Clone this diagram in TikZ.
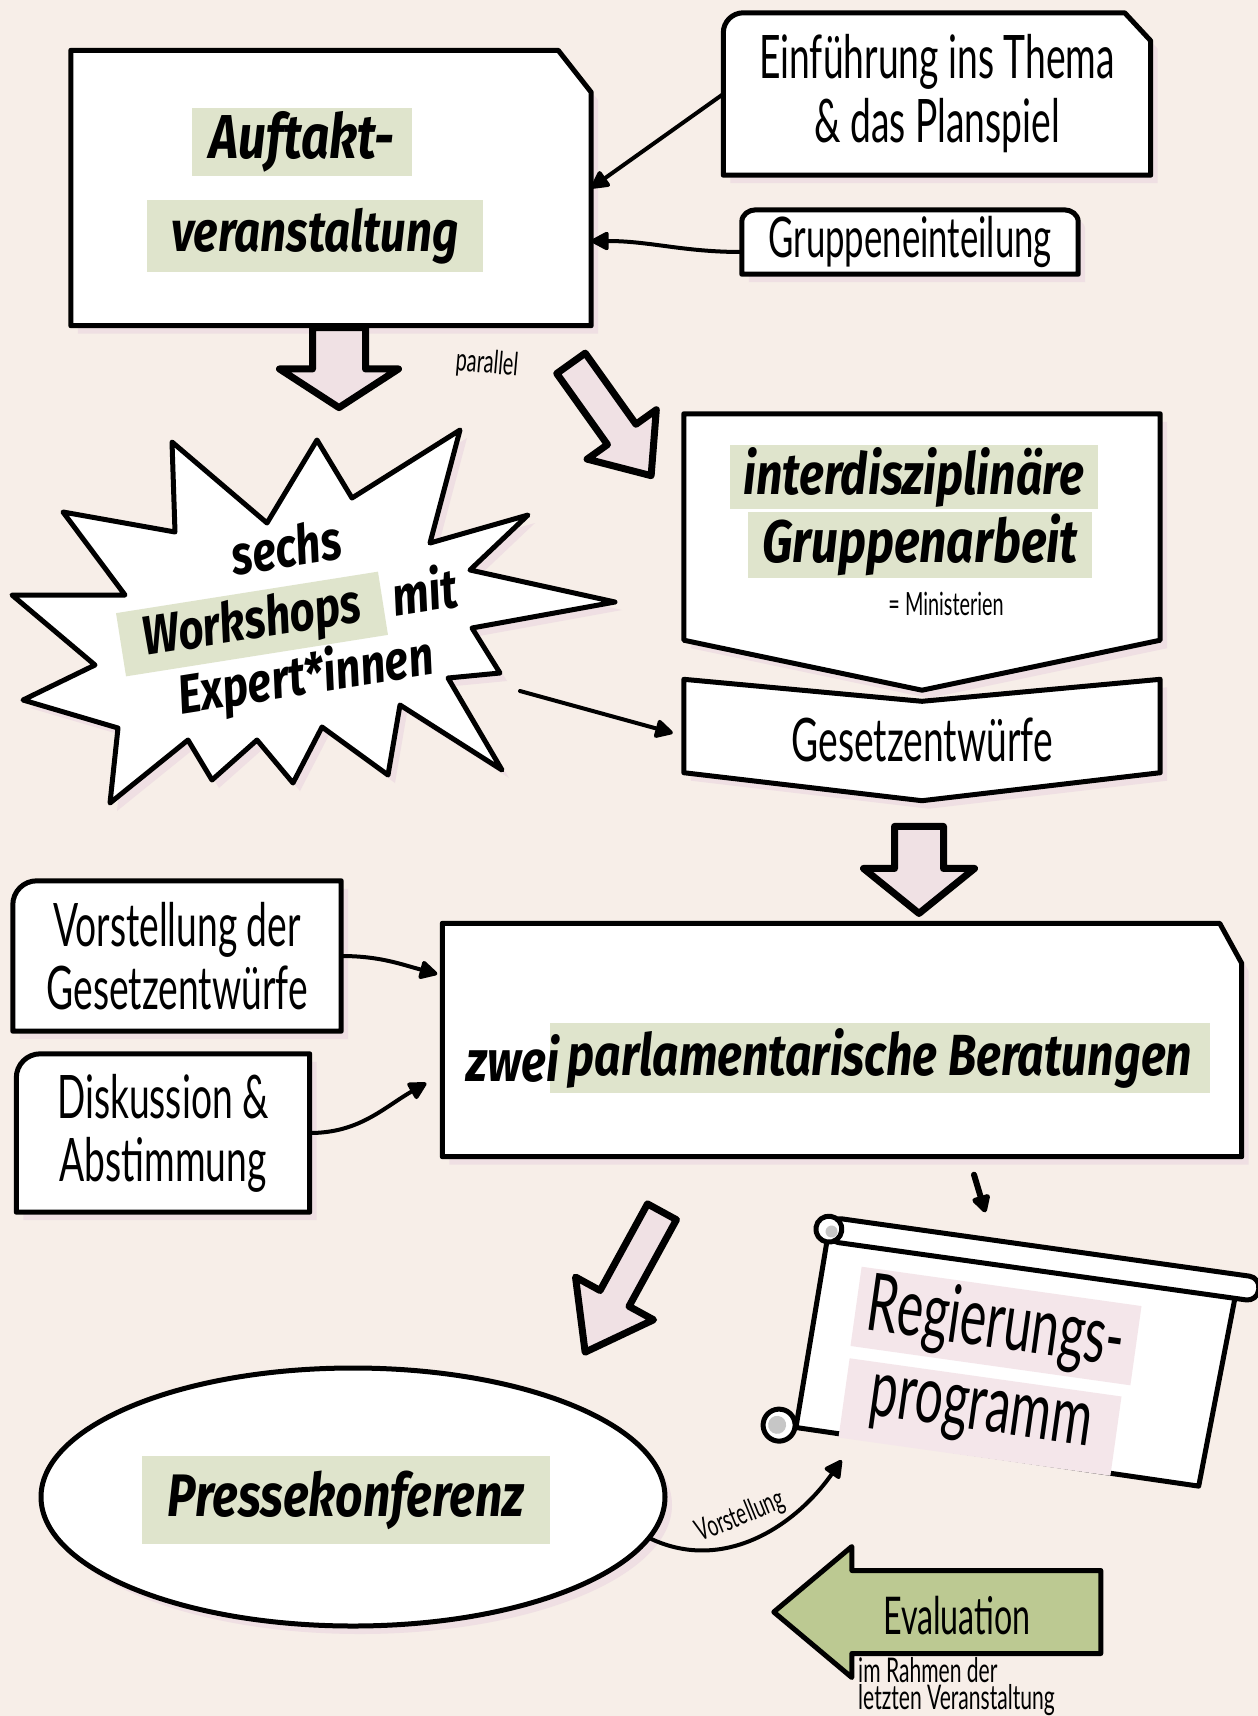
\documentclass[tikz,border=0pt]{standalone}
\usepackage{fontspec}
\usepackage{tikz}
\usetikzlibrary{arrows.meta,positioning,backgrounds,shapes.geometric,shapes.arrows}
\newfontfamily\handfont{Lato}[FakeStretch=0.62]
\newfontfamily\brushfont{Fira Sans}[FakeStretch=0.8]
\definecolor{bgpaper}{RGB}{247,238,232}
\definecolor{hlgreen}{RGB}{223,228,204}
\definecolor{hlpink}{RGB}{244,230,234}
\definecolor{shadowpink}{RGB}{239,223,227}
\definecolor{arrowpink}{RGB}{240,225,228}
\definecolor{evalgreen}{RGB}{188,201,146}
\definecolor{curlgrey}{RGB}{198,198,198}
\tikzset {
	outline/.style={draw=black, line width=5pt, line join=round, fill=white,
		preaction={fill=shadowpink, transform canvas={xshift=7pt, yshift=-8pt}}},
	plain/.style={draw=black, line width=5pt, line join=round, fill=white},
	area/.style={inner sep=0pt},
	hand/.style={font=\handfont\fontsize{#1}{#1}\selectfont, align=center, inner sep=0pt},
	brush/.style={font=\brushfont\bfseries\itshape\fontsize{#1}{#1}\selectfont, inner sep=0pt},
	greenbox/.style={fill=hlgreen, inner xsep=18pt, minimum height=64pt},
	pinkbox/.style={fill=hlpink, inner xsep=12pt, minimum height=80pt},
	conn/.style={line width=4pt, line cap=round, -{Triangle[length=20pt, width=20pt, round]}},
	blockarrow/.style={single arrow, draw=black, fill=arrowpink, line width=7pt, line join=round, inner xsep=0pt}
}
\begin{document}
\begin{tikzpicture}[x=1pt, y=-1pt]
	\begin{pgfonlayer}{background}
		\fill[bgpaper] (0,0) rectangle (1258,1716);
	\end{pgfonlayer}
	\useasboundingbox (0,0) rectangle (1258,1716);

	% top row
	\node[area, minimum width=520pt, minimum height=275pt] (auftakt) at (331,188) {};
	\node[brush=62, greenbox, minimum height=68pt] (auftakt1) at (302,142) {Auftakt-};
	\node[brush=57, greenbox, minimum height=72pt, inner xsep=24pt] (auftakt2) at (315,236) {veranstaltung};
	\node[area, hand=60, minimum width=427pt, minimum height=162pt] (einf) at (937,94) {Einführung ins Thema\\[4pt]\& das Planspiel};
	\node[area, hand=56, minimum width=336pt, minimum height=64pt] (grp) at (910,242) {Gruppeneinteilung};

	% block arrows
	\node[blockarrow, rotate=-90, inner ysep=23pt, minimum height=80pt, minimum width=114pt, single arrow head extend=33pt, single arrow tip angle=114] (down1) at (339,359) {};
	\node[blockarrow, rotate=-54.5, inner ysep=14pt, minimum height=138pt, minimum width=78pt, single arrow head extend=25pt, single arrow tip angle=80] (diag1) at (605,411) {};
	\node[hand=32, rotate=-5] (parallel) at (487,364) {parallel};

	% workshops
	\node[brush=55, rotate=9] (sechs) at (286,547) {sechs};
	\node[brush=55, rotate=9, greenbox, inner xsep=22pt] (workshops) at (252,624) {Workshops};
	\node[brush=55, rotate=9] (mit) at (424,590) {mit};
	\node[brush=55, rotate=9] (experts) at (306,678) {Expert*innen};
	\coordinate (burstout) at (520,691);

	% group work
	\node[area, minimum width=476pt, minimum height=276pt] (grpa) at (922,552) {};
	\node[brush=58, greenbox, inner xsep=14pt] (grpa1) at (914,477) {interdisziplinäre};
	\node[brush=60, greenbox, minimum height=66pt, inner xsep=14pt] (grpa2) at (920,545) {Gruppenarbeit};
	\node[hand=32] (minist) at (946,604) {= Ministerien};
	\node[area, hand=60, minimum width=476pt, minimum height=121pt] (gesetz) at (922,740) {Gesetzentwürfe};
	\node[blockarrow, rotate=-90, inner ysep=21pt, minimum height=87pt, minimum width=106pt, single arrow head extend=31pt, single arrow tip angle=102] (down2) at (919,860) {};

	% parliament
	\node[area, minimum width=799pt, minimum height=233pt] (zwei) at (842,1040) {};
	\node[brush=58, greenbox, minimum height=70pt] (zwei2) at (880,1058) {parlamentarische Beratungen};
	\node[brush=58, left=-10pt of zwei2] (zwei1) {zwei};
	\node[area, hand=60, minimum width=328pt, minimum height=150pt] (vorst) at (177,956) {Vorstellung der\\[3pt]Gesetzentwürfe};
	\node[area, hand=60, minimum width=293pt, minimum height=158pt] (disk) at (163,1133) {Diskussion \&\\[3pt]Abstimmung};
	\node[blockarrow, rotate=-118.7, inner ysep=13pt, minimum height=160pt, minimum width=82pt, single arrow head extend=28pt, single arrow tip angle=72] (diag2) at (629,1272) {};

	% results
	\node[outline, ellipse, minimum width=624pt, minimum height=258pt, inner sep=0pt] (presse) at (353,1497) {};
	\node[brush=60, greenbox, inner xsep=26pt, minimum height=88pt] (presse1) at (346,1500) {Pressekonferenz};
	\node[area, rotate=-8, minimum width=410pt, minimum height=205pt] (regprog) at (1013,1356) {};
	\node[hand=80, rotate=-8, pinkbox] (regprog1) at (996,1326) {Regierungs-};
	\node[hand=80, rotate=-8, pinkbox, inner xsep=26pt] (regprog2) at (980,1417) {programm};
	\node[blockarrow, fill=evalgreen, line width=5pt, rotate=180, inner ysep=39pt, minimum height=327pt, minimum width=126pt, single arrow head extend=24pt, single arrow tip angle=80] (evalarrow) at (962,1612) {};
	\node[hand=52] (evaltext) at (957,1616) {Evaluation};
	\node[hand=34, align=left, anchor=north west] (evalnote) at (858,1657) {im Rahmen der\\[-7pt]letzten Veranstaltung};

	% connectors
	\draw[conn] (einf.west) -- (auftakt.east);
	\draw[conn] ([yshift=-10pt]grp.west) to[out=180, in=0] ([yshift=-53pt]auftakt.east);
	\draw[conn] (burstout) -- ([xshift=-11pt, yshift=7pt]gesetz.west);
	\draw[conn] (vorst.east) to[out=0, in=165] ([xshift=-5pt, yshift=66pt]zwei.west);
	\draw[conn] (disk.east) to[out=0, in=210] ([xshift=-16pt, yshift=-43pt]zwei.west);
	\draw[conn, line width=6pt] ([xshift=132pt, yshift=-18pt]zwei.south) -- ([xshift=-42pt, yshift=42pt]regprog.north);
	\draw[conn] (presse.-8) to[out=-25, in=235] node[hand=30, rotate=22, above=10pt, pos=0.45] (vorstlbl) {Vorstellung} ([xshift=46pt, yshift=-31pt]regprog.south west);

	% box outlines
	\begin{pgfonlayer}{background}
		\draw[outline] (auftakt.north west) -- ([xshift=-33pt]auftakt.north east) -- ([yshift=-42pt]auftakt.north east) -- (auftakt.south east) -- (auftakt.south west) -- cycle;
		\draw[outline] (einf.south west) -- ([yshift=-20pt]einf.north west) to[out=90, in=180] ([xshift=20pt]einf.north west) -- ([xshift=-26pt]einf.north east) -- ([yshift=-28pt]einf.north east) -- (einf.south east) -- cycle;
		\draw[outline] (grp.south west) -- ([yshift=-12pt]grp.north west) to[out=90, in=180] ([xshift=14pt]grp.north west) -- ([xshift=-14pt]grp.north east) to[out=0, in=90] ([yshift=-12pt]grp.north east) -- (grp.south east) -- cycle;
		\draw[outline] (317,440) -- (352,498) -- (460,430) -- (430,543) -- (528,515) -- (470,570) -- (615,602) -- (472,628) -- (500,673) -- (448,678) -- (502,770) -- (400,705) -- (388,775) -- (322,727) -- (293,783) -- (257,740) -- (212,780) -- (188,740) -- (110,803) -- (118,728) -- (23,700) -- (95,665) -- (12,595) -- (125,595) -- (63,512) -- (175,532) -- (172,442) -- (267,523) -- cycle;
		\draw[outline] (grpa.north west) -- (grpa.north east) -- ([yshift=50pt]grpa.south east) -- (grpa.south) -- ([yshift=50pt]grpa.south west) -- cycle;
		\draw[outline] (gesetz.north west) -- ([yshift=-22pt]gesetz.north) -- (gesetz.north east) -- ([yshift=28pt]gesetz.south east) -- (gesetz.south) -- ([yshift=28pt]gesetz.south west) -- cycle;
		\draw[outline] (zwei.north west) -- ([xshift=-22pt]zwei.north east) -- ([yshift=-40pt]zwei.north east) -- (zwei.south east) -- (zwei.south west) -- cycle;
		\draw[outline] (vorst.south west) -- ([yshift=-24pt]vorst.north west) to[out=90, in=180] ([xshift=24pt]vorst.north west) -- (vorst.north east) -- (vorst.south east) -- cycle;
		\draw[outline] (disk.south west) -- ([yshift=-24pt]disk.north west) to[out=90, in=180] ([xshift=24pt]disk.north west) -- (disk.north east) -- (disk.south east) -- cycle;
		\begin{scope}[shift={(regprog.center)}, rotate=-8]
			\draw[plain] (-200,-96) -- (212,-94) -- (202,103) -- (-205,101) -- cycle;
			\draw[plain, rounded corners=11pt] (-200,-112) rectangle (234,-88);
			\draw[plain] (-200,-100) circle (13pt);
			\fill[curlgrey] (-197,-98) circle (6pt);
			\draw[plain] (-222,101) circle (16pt);
			\fill[curlgrey] (-224,101) circle (9pt);
		\end{scope}
	\end{pgfonlayer}
\end{tikzpicture}
\end{document}
